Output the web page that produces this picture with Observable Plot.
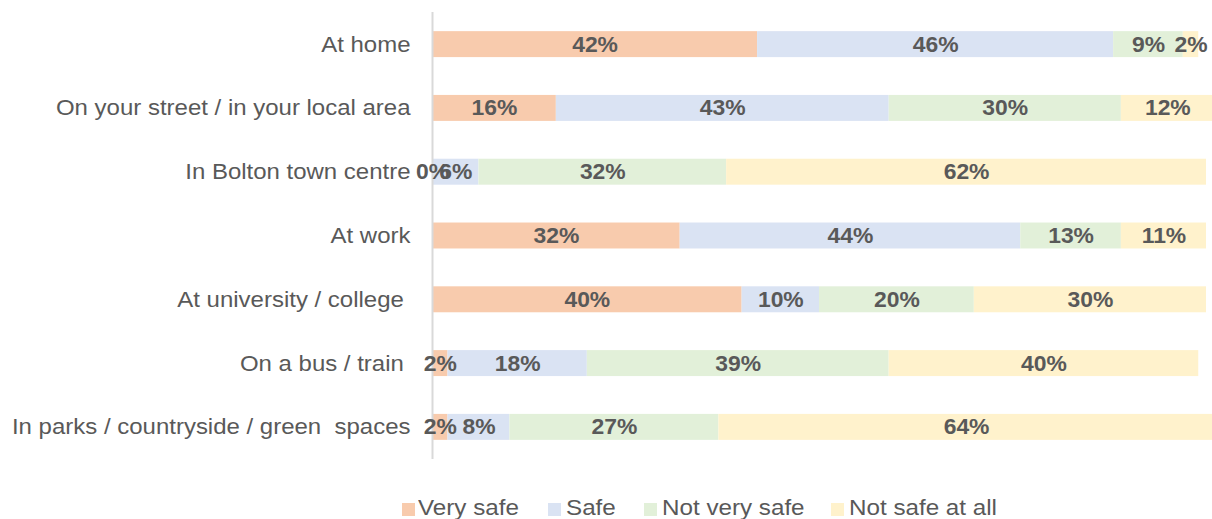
<!DOCTYPE html>
<html>
<head>
<meta charset="utf-8">
<script src="https://cdn.jsdelivr.net/npm/d3@7"></script>
<script src="https://cdn.jsdelivr.net/npm/@observablehq/plot@0.6"></script>
<style>
  html, body { margin: 0; padding: 0; background: #fff; overflow: hidden; }
  body { width: 1212px; height: 519px; position: relative; font-family: "Liberation Sans", Arial, sans-serif; }
  #chart svg text { white-space: pre; }
  #legend { position: absolute; left: 0; top: 497px; width: 1212px; height: 30px; font-size: 22px; color: #595959; line-height: 22px; white-space: nowrap; }
  #legend .sw { position: absolute; width: 13px; height: 13px; top: 6px; }
  #legend .lt { position: absolute; top: 0; transform-origin: 0 50%; }
</style>
</head>
<body>
<div id="chart"></div>
<div id="legend"></div>
<script>
const categories = [
  "At home",
  "On your street / in your local area",
  "In Bolton town centre",
  "At work",
  "At university / college ",
  "On a bus / train ",
  "In parks / countryside / green  spaces"
];
const seriesNames = ["Very safe", "Safe", "Not very safe", "Not safe at all"];
const seriesColors = ["#F8CBAD", "#DAE3F3", "#E2F0D9", "#FFF2CC"];
const verySafe    = [42, 16, 0, 32, 40, 2, 2];
const safe        = [46, 43, 6, 44, 10, 18, 8];
const notVerySafe = [9, 30, 32, 13, 20, 39, 27];
const notSafeAtAll= [2, 12, 62, 11, 30, 40, 64];

const seriesValues = [verySafe, safe, notVerySafe, notSafeAtAll];
const data = [];
categories.forEach((c, i) => {
  seriesNames.forEach((s, j) => {
    data.push({category: c, series: s, value: seriesValues[j][i]});
  });
});

const plot = Plot.plot({
  width: 1212,
  height: 470,
  marginTop: 12,
  marginBottom: 11,
  marginLeft: 432,
  marginRight: 6,
  style: {fontFamily: "Liberation Sans, Arial, sans-serif", background: "#fff"},
  x: {domain: [0, 100], axis: null},
  y: {domain: categories, paddingInner: 0.593, paddingOuter: 0.3, round: false, label: null},
  color: {domain: seriesNames, range: seriesColors},
  marks: [
    Plot.barX(data, Plot.stackX({x: "value", y: "category", fill: "series", z: "series"})),
    Plot.ruleX([0], {stroke: "#D9D9D9", strokeWidth: 2}),
    Plot.text(data, Plot.stackX({
      x: "value", y: "category", z: "series",
      text: d => d.value + "%",
      fill: "#595959", fontWeight: "bold", fontSize: 22, textAnchor: "middle",
      className: "vlabel"
    })),
    Plot.axisY({tickSize: 0, tickPadding: 22, fontSize: 22, color: "#595959", label: null, className: "ylab"})
  ]
});
document.getElementById("chart").appendChild(plot);

// widen glyphs horizontally (reference type is slightly stretched)
function stretch(sel, sx) {
  plot.querySelectorAll(sel).forEach(t => {
    const w = t.getComputedTextLength();
    if (w > 0) {
      t.setAttribute("textLength", (w * sx).toFixed(2));
      t.setAttribute("lengthAdjust", "spacingAndGlyphs");
    }
  });
}
stretch(".ylab text", 1.09);
stretch(".vlabel text", 1.04);

const legend = document.getElementById("legend");
const swX = [402, 548, 644, 831];
const txX = [418, 566, 662, 849];
seriesNames.forEach((s, j) => {
  const sw = document.createElement("span");
  sw.className = "sw";
  sw.style.background = seriesColors[j];
  sw.style.left = swX[j] + "px";
  const t = document.createElement("span");
  t.className = "lt";
  t.textContent = s;
  t.style.left = txX[j] + "px";
  t.style.transform = "scaleX(1.1)";
  legend.appendChild(sw);
  legend.appendChild(t);
});
</script>
</body>
</html>
